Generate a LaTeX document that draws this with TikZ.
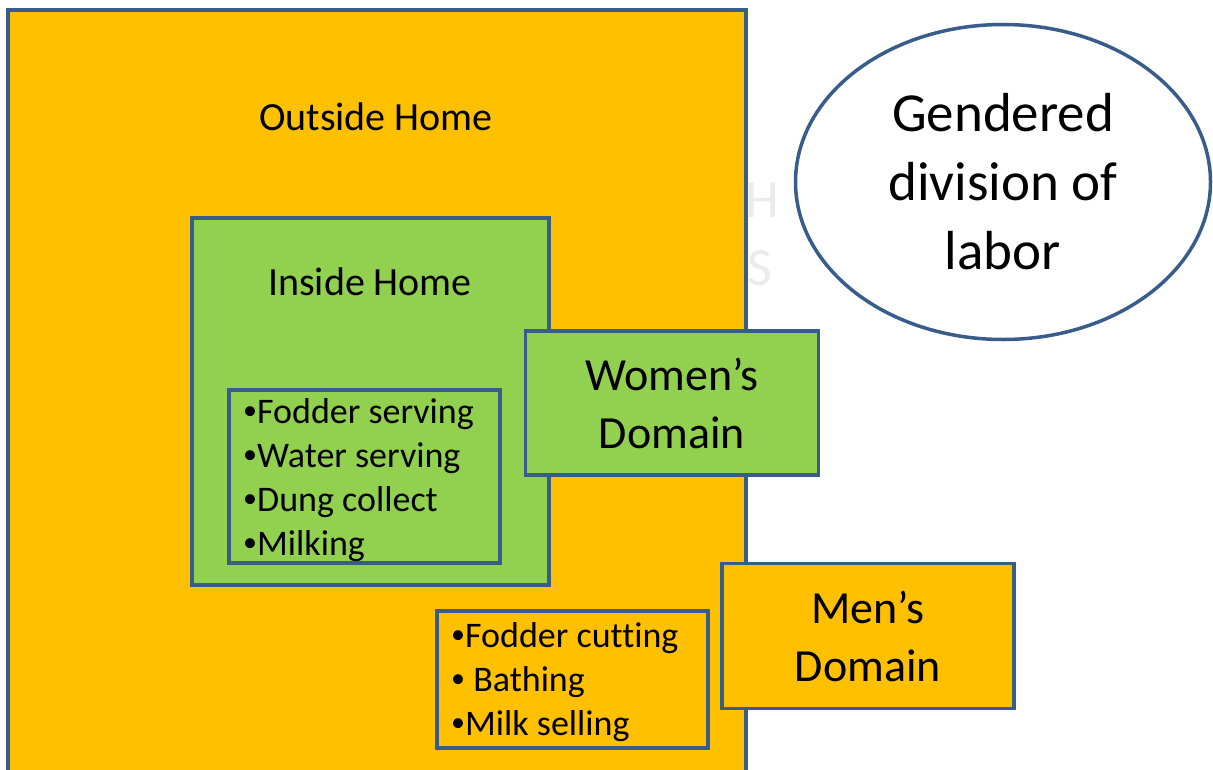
\documentclass[tikz,border=0pt]{standalone}
\usepackage{fontspec}
\setmainfont{Carlito}[Ligatures=NoCommon]
\usetikzlibrary{shapes.geometric}

\definecolor{boxorange}{HTML}{FFC000}
\definecolor{boxgreen}{HTML}{92D050}
\definecolor{boxline}{HTML}{385D8A}

\newcommand{\taskdot}{\raisebox{0.12em}{\fontsize{28}{44}\selectfont•}}

\begin{document}
\begin{tikzpicture}[x=1pt,y=-1pt,
    domainbox/.style={draw=boxline,line width=3.5pt,inner sep=0pt,align=center,
        font=\fontsize{46}{58}\selectfont},
    tasks/.style={inner sep=0pt,align=left,anchor=west,
        font=\fontsize{36}{44}\selectfont},
    title/.style={inner sep=0pt,font=\fontsize{40}{48}\selectfont}]

    \def\outside{(8,10) rectangle (746,800)}
    \def\inside{(192,218) rectangle (549,585)}
    \def\homebox{(229,390) rectangle (500,563)}
    \def\outbox{(437,611) rectangle (708,748)}

    \useasboundingbox (0,0) rectangle (1213,769);
    \clip (0,0) rectangle (1213,769);

    %hidden letters behind the box:
    \node[inner sep=0pt,text=black!8,font=\fontsize{54}{60}\selectfont] (ghostH) at (762,200) {H};
    \node[inner sep=0pt,text=black!8,font=\fontsize{54}{60}\selectfont] (ghostS) at (760,268) {S};

    %outside home:
    \filldraw[fill=boxorange,draw=boxline,line width=3.5pt] \outside;
    \node[title] (outsideHome) at (376,117) {Outside Home};

    %ellipse:
    \node[ellipse,draw=boxline,line width=3.5pt,fill=white,minimum width=415,
        minimum height=315,align=center,inner sep=0pt,
        font=\fontsize{55}{69}\selectfont] (gendered) at (1003,182)
        {Gendered\\division of\\labor};

    %inside home:
    \filldraw[fill=boxgreen,draw=boxline,line width=3.5pt] \inside;
    \node[title] (insideHome) at (370,282) {Inside Home};

    \draw[boxline,line width=3.5pt] \homebox;
    \node[tasks] (homeTasks) at (243,480)
        {\taskdot Fodder serving\\\taskdot Water serving\\\taskdot Dung collect\\\taskdot Milking};

    %domains:
    \node[domainbox,fill=boxgreen,minimum width=293,minimum height=144] (women)
        at (672,403) {Women’s\\Domain};

    \filldraw[fill=boxorange,draw=boxline,line width=3.5pt] \outbox;
    \node[tasks] (outTasks) at (451,682)
        {\taskdot Fodder cutting\\\taskdot{} Bathing\\\taskdot Milk selling};

    \node[domainbox,fill=boxorange,minimum width=292,minimum height=145] (men)
        at (868,636) {Men’s\\Domain};

\end{tikzpicture}
\end{document}
